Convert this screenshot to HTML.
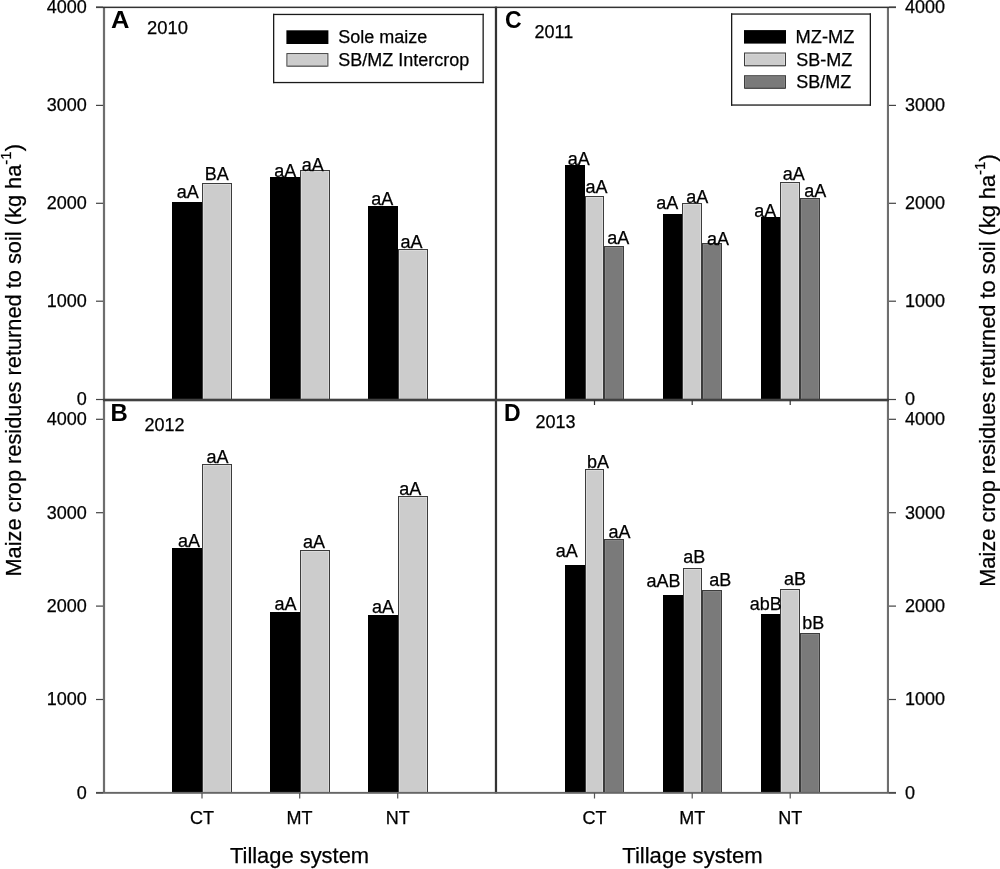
<!DOCTYPE html>
<html><head><meta charset="utf-8"><title>Maize crop residues returned to soil</title><style>
html,body{margin:0;padding:0;background:#fff;width:1000px;height:869px;overflow:hidden}
svg{display:block;font-family:"Liberation Sans",sans-serif;filter:grayscale(1)}
</style></head><body>
<svg width="1000" height="869" viewBox="0 0 1000 869">
<rect x="0" y="0" width="1000" height="869" fill="#fff"/>
<rect x="172" y="202" width="30" height="198" fill="#000"/>
<rect x="202" y="183" width="30" height="217" fill="#3c3c3c"/>
<rect x="203" y="184" width="28" height="216" fill="#dadada"/>
<rect x="204" y="185" width="26" height="214" fill="#cccccc"/>
<rect x="270" y="177" width="30" height="223" fill="#000"/>
<rect x="300" y="170" width="30" height="230" fill="#3c3c3c"/>
<rect x="301" y="171" width="28" height="229" fill="#dadada"/>
<rect x="302" y="172" width="26" height="227" fill="#cccccc"/>
<rect x="368" y="206" width="30" height="194" fill="#000"/>
<rect x="398" y="249" width="30" height="151" fill="#3c3c3c"/>
<rect x="399" y="250" width="28" height="150" fill="#dadada"/>
<rect x="400" y="251" width="26" height="148" fill="#cccccc"/>
<rect x="172" y="548" width="30" height="245" fill="#000"/>
<rect x="202" y="464" width="30" height="329" fill="#3c3c3c"/>
<rect x="203" y="465" width="28" height="328" fill="#dadada"/>
<rect x="204" y="466" width="26" height="326" fill="#cccccc"/>
<rect x="270" y="612" width="30" height="181" fill="#000"/>
<rect x="300" y="550" width="30" height="243" fill="#3c3c3c"/>
<rect x="301" y="551" width="28" height="242" fill="#dadada"/>
<rect x="302" y="552" width="26" height="240" fill="#cccccc"/>
<rect x="368" y="615" width="30" height="178" fill="#000"/>
<rect x="398" y="496" width="30" height="297" fill="#3c3c3c"/>
<rect x="399" y="497" width="28" height="296" fill="#dadada"/>
<rect x="400" y="498" width="26" height="294" fill="#cccccc"/>
<rect x="565" y="165" width="20" height="235" fill="#000"/>
<rect x="585" y="196" width="19" height="204" fill="#3c3c3c"/>
<rect x="586" y="197" width="17" height="203" fill="#dadada"/>
<rect x="587" y="198" width="15" height="201" fill="#cccccc"/>
<rect x="604" y="246" width="20" height="154" fill="#3c3c3c"/>
<rect x="605" y="247" width="18" height="153" fill="#858585"/>
<rect x="606" y="248" width="16" height="151" fill="#7a7a7a"/>
<rect x="663" y="214" width="19" height="186" fill="#000"/>
<rect x="682" y="203" width="20" height="197" fill="#3c3c3c"/>
<rect x="683" y="204" width="18" height="196" fill="#dadada"/>
<rect x="684" y="205" width="16" height="194" fill="#cccccc"/>
<rect x="702" y="243" width="20" height="157" fill="#3c3c3c"/>
<rect x="703" y="244" width="18" height="156" fill="#858585"/>
<rect x="704" y="245" width="16" height="154" fill="#7a7a7a"/>
<rect x="761" y="217" width="19" height="183" fill="#000"/>
<rect x="780" y="182" width="20" height="218" fill="#3c3c3c"/>
<rect x="781" y="183" width="18" height="217" fill="#dadada"/>
<rect x="782" y="184" width="16" height="215" fill="#cccccc"/>
<rect x="800" y="198" width="20" height="202" fill="#3c3c3c"/>
<rect x="801" y="199" width="18" height="201" fill="#858585"/>
<rect x="802" y="200" width="16" height="199" fill="#7a7a7a"/>
<rect x="565" y="565" width="20" height="228" fill="#000"/>
<rect x="585" y="469" width="19" height="324" fill="#3c3c3c"/>
<rect x="586" y="470" width="17" height="323" fill="#dadada"/>
<rect x="587" y="471" width="15" height="321" fill="#cccccc"/>
<rect x="604" y="539" width="20" height="254" fill="#3c3c3c"/>
<rect x="605" y="540" width="18" height="253" fill="#858585"/>
<rect x="606" y="541" width="16" height="251" fill="#7a7a7a"/>
<rect x="663" y="595" width="20" height="198" fill="#000"/>
<rect x="683" y="568" width="19" height="225" fill="#3c3c3c"/>
<rect x="684" y="569" width="17" height="224" fill="#dadada"/>
<rect x="685" y="570" width="15" height="222" fill="#cccccc"/>
<rect x="702" y="590" width="20" height="203" fill="#3c3c3c"/>
<rect x="703" y="591" width="18" height="202" fill="#858585"/>
<rect x="704" y="592" width="16" height="200" fill="#7a7a7a"/>
<rect x="761" y="614" width="19" height="179" fill="#000"/>
<rect x="780" y="589" width="20" height="204" fill="#3c3c3c"/>
<rect x="781" y="590" width="18" height="203" fill="#dadada"/>
<rect x="782" y="591" width="16" height="201" fill="#cccccc"/>
<rect x="800" y="633" width="20" height="160" fill="#3c3c3c"/>
<rect x="801" y="634" width="18" height="159" fill="#858585"/>
<rect x="802" y="635" width="16" height="157" fill="#7a7a7a"/>
<rect x="102.9" y="7" width="2.2" height="786" fill="#6e6e6e"/>
<rect x="886.9" y="7" width="2.1" height="786" fill="#6e6e6e"/>
<rect x="96" y="6.6" width="800" height="1.5" fill="#333333"/>
<rect x="494.85" y="6.6" width="2.25" height="786.8" fill="#333333"/>
<rect x="103" y="398.7" width="786" height="2.6" fill="#404040"/>
<rect x="96" y="791.9" width="800" height="1.9" fill="#666666"/>
<rect x="96" y="6.6" width="7" height="1.2" fill="#444444"/>
<rect x="889" y="6.6" width="7" height="1.2" fill="#444444"/>
<rect x="96" y="104.8" width="7" height="1.2" fill="#444444"/>
<rect x="889" y="104.8" width="7" height="1.2" fill="#444444"/>
<rect x="96" y="202.7" width="7" height="1.2" fill="#444444"/>
<rect x="889" y="202.7" width="7" height="1.2" fill="#444444"/>
<rect x="96" y="300.6" width="7" height="1.2" fill="#444444"/>
<rect x="889" y="300.6" width="7" height="1.2" fill="#444444"/>
<rect x="96" y="398.9" width="7" height="1.2" fill="#444444"/>
<rect x="889" y="398.9" width="7" height="1.2" fill="#444444"/>
<rect x="96" y="418.7" width="7" height="1.2" fill="#444444"/>
<rect x="889" y="418.7" width="7" height="1.2" fill="#444444"/>
<rect x="96" y="512.1" width="7" height="1.2" fill="#444444"/>
<rect x="889" y="512.1" width="7" height="1.2" fill="#444444"/>
<rect x="96" y="605.5" width="7" height="1.2" fill="#444444"/>
<rect x="889" y="605.5" width="7" height="1.2" fill="#444444"/>
<rect x="96" y="698.9" width="7" height="1.2" fill="#444444"/>
<rect x="889" y="698.9" width="7" height="1.2" fill="#444444"/>
<rect x="96" y="792.2" width="7" height="1.2" fill="#444444"/>
<rect x="889" y="792.2" width="7" height="1.2" fill="#444444"/>
<rect x="201.4" y="793" width="1.2" height="5.5" fill="#555"/>
<rect x="299.1" y="793" width="1.2" height="5.5" fill="#555"/>
<rect x="397.1" y="793" width="1.2" height="5.5" fill="#555"/>
<rect x="593.9" y="793" width="1.2" height="5.5" fill="#555"/>
<rect x="691.6" y="793" width="1.2" height="5.5" fill="#555"/>
<rect x="789.6" y="793" width="1.2" height="5.5" fill="#555"/>
<rect x="593.9" y="400" width="1.2" height="5" fill="#333"/>
<rect x="691.6" y="400" width="1.2" height="5" fill="#333"/>
<rect x="789.6" y="400" width="1.2" height="5" fill="#333"/>
<rect x="273" y="13.8" width="210.8" height="1.3" fill="#1a1a1a"/>
<rect x="273" y="81.9" width="210.8" height="1.3" fill="#1a1a1a"/>
<rect x="273" y="13.8" width="1.3" height="69.4" fill="#1a1a1a"/>
<rect x="482.5" y="13.8" width="1.3" height="69.4" fill="#1a1a1a"/>
<rect x="286.4" y="30.3" width="42" height="13.7" fill="#000"/>
<rect x="286.4" y="53.1" width="42.0" height="13.5" fill="#3c3c3c"/>
<rect x="287.4" y="54.1" width="40.0" height="12.5" fill="#dadada"/>
<rect x="288.4" y="55.1" width="38.0" height="10.5" fill="#cccccc"/>
<rect x="287.4" y="65.6" width="40" height="1" fill="#3c3c3c"/>
<rect x="731" y="13.4" width="140" height="1.3" fill="#1a1a1a"/>
<rect x="731" y="104.4" width="140" height="1.3" fill="#1a1a1a"/>
<rect x="731" y="13.4" width="1.3" height="92.3" fill="#1a1a1a"/>
<rect x="869.7" y="13.4" width="1.3" height="92.3" fill="#1a1a1a"/>
<rect x="744" y="30.1" width="42" height="13.5" fill="#000"/>
<rect x="744" y="52.5" width="42" height="13.7" fill="#3c3c3c"/>
<rect x="745" y="53.5" width="40" height="12.7" fill="#dadada"/>
<rect x="746" y="54.5" width="38" height="10.7" fill="#cccccc"/>
<rect x="745" y="65.2" width="40" height="1" fill="#3c3c3c"/>
<rect x="744" y="75.2" width="42" height="13.5" fill="#3c3c3c"/>
<rect x="745" y="76.2" width="40" height="12.5" fill="#858585"/>
<rect x="746" y="77.2" width="38" height="10.5" fill="#7a7a7a"/>
<rect x="745" y="87.7" width="40" height="1" fill="#3c3c3c"/>
<g font-family="Liberation Sans, sans-serif" font-size="18" fill="#000" stroke="#000" stroke-width="0.25">
<text x="86.8" y="13.2" text-anchor="end">4000</text>
<text x="905" y="13.2">4000</text>
<text x="86.8" y="111.2" text-anchor="end">3000</text>
<text x="905" y="111.2">3000</text>
<text x="86.8" y="209.2" text-anchor="end">2000</text>
<text x="905" y="209.2">2000</text>
<text x="86.8" y="307.3" text-anchor="end">1000</text>
<text x="905" y="307.3">1000</text>
<text x="86.8" y="405.0" text-anchor="end">0</text>
<text x="905" y="405.0">0</text>
<text x="86.8" y="425.1" text-anchor="end">4000</text>
<text x="905" y="425.1">4000</text>
<text x="86.8" y="518.6" text-anchor="end">3000</text>
<text x="905" y="518.6">3000</text>
<text x="86.8" y="612.1" text-anchor="end">2000</text>
<text x="905" y="612.1">2000</text>
<text x="86.8" y="705.4" text-anchor="end">1000</text>
<text x="905" y="705.4">1000</text>
<text x="86.8" y="798.9" text-anchor="end">0</text>
<text x="905" y="798.9">0</text>
<text transform="translate(111.1,27.6) scale(1.11,1)" font-size="23" font-weight="bold" stroke-width="0">A</text>
<text transform="translate(110.6,420.8) scale(1.04,1)" font-size="23" font-weight="bold" stroke-width="0">B</text>
<text x="505" y="27.6" font-size="23" font-weight="bold" stroke-width="0">C</text>
<text x="504" y="420.8" font-size="23" font-weight="bold" stroke-width="0">D</text>
<text x="147" y="34.1" font-size="18.4">2010</text>
<text x="534.5" y="37.5">2011</text>
<text x="144.5" y="431">2012</text>
<text x="535.5" y="428">2013</text>
<text x="176.7" y="198">aA</text>
<text x="204.7" y="180">BA</text>
<text x="274.2" y="177">aA</text>
<text x="301.7" y="171">aA</text>
<text x="371.2" y="204.5">aA</text>
<text x="400.6" y="248.2">aA</text>
<text x="177.9" y="546.6">aA</text>
<text x="206.4" y="463.2">aA</text>
<text x="274.4" y="609.9">aA</text>
<text x="302.9" y="547.6">aA</text>
<text x="372.1" y="612.8">aA</text>
<text x="399.2" y="494.9">aA</text>
<text x="567.8" y="164.9">aA</text>
<text x="585.4" y="193.2">aA</text>
<text x="607.2" y="243.6">aA</text>
<text x="656.2" y="208.5">aA</text>
<text x="686.2" y="203.3">aA</text>
<text x="707.0" y="245">aA</text>
<text x="754.2" y="216.9">aA</text>
<text x="782.7" y="179.7">aA</text>
<text x="804.2" y="196.7">aA</text>
<text x="555.7" y="557">aA</text>
<text x="587.0" y="467.5">bA</text>
<text x="608.4" y="537.6">aA</text>
<text x="646.4" y="587">aAB</text>
<text x="683.3" y="562.7">aB</text>
<text x="709.2" y="586.2">aB</text>
<text x="749.7" y="610">abB</text>
<text x="784.0" y="584.5">aB</text>
<text x="802.2" y="628.5">bB</text>
<text x="202" y="823.9" text-anchor="middle">CT</text>
<text x="299.5" y="823.9" text-anchor="middle">MT</text>
<text x="397.7" y="823.9" text-anchor="middle">NT</text>
<text x="594.5" y="823.9" text-anchor="middle">CT</text>
<text x="692.2" y="823.9" text-anchor="middle">MT</text>
<text x="790.2" y="823.9" text-anchor="middle">NT</text>
<text x="299.5" y="863.2" text-anchor="middle" font-size="21.9">Tillage system</text>
<text x="692.4" y="863.2" text-anchor="middle" font-size="22.1">Tillage system</text>
<text x="338.2" y="43.3">Sole maize</text>
<text x="338.2" y="65.8">SB/MZ Intercrop</text>
<text x="795.6" y="42.9" font-size="18.3">MZ-MZ</text>
<text x="796.2" y="65.6">SB-MZ</text>
<text x="796.2" y="88">SB/MZ</text>
<text transform="translate(21.2,576.6) rotate(-90)" font-size="21.8">Maize crop residues returned to soil (kg ha<tspan dy="-10" font-size="15">-1</tspan><tspan dy="10">)</tspan></text>
<text transform="translate(995,586.8) rotate(-90)" font-size="21.8">Maize crop residues returned to soil (kg ha<tspan dy="-10" font-size="15">-1</tspan><tspan dy="10">)</tspan></text>
</g>
</svg>
</body></html>
